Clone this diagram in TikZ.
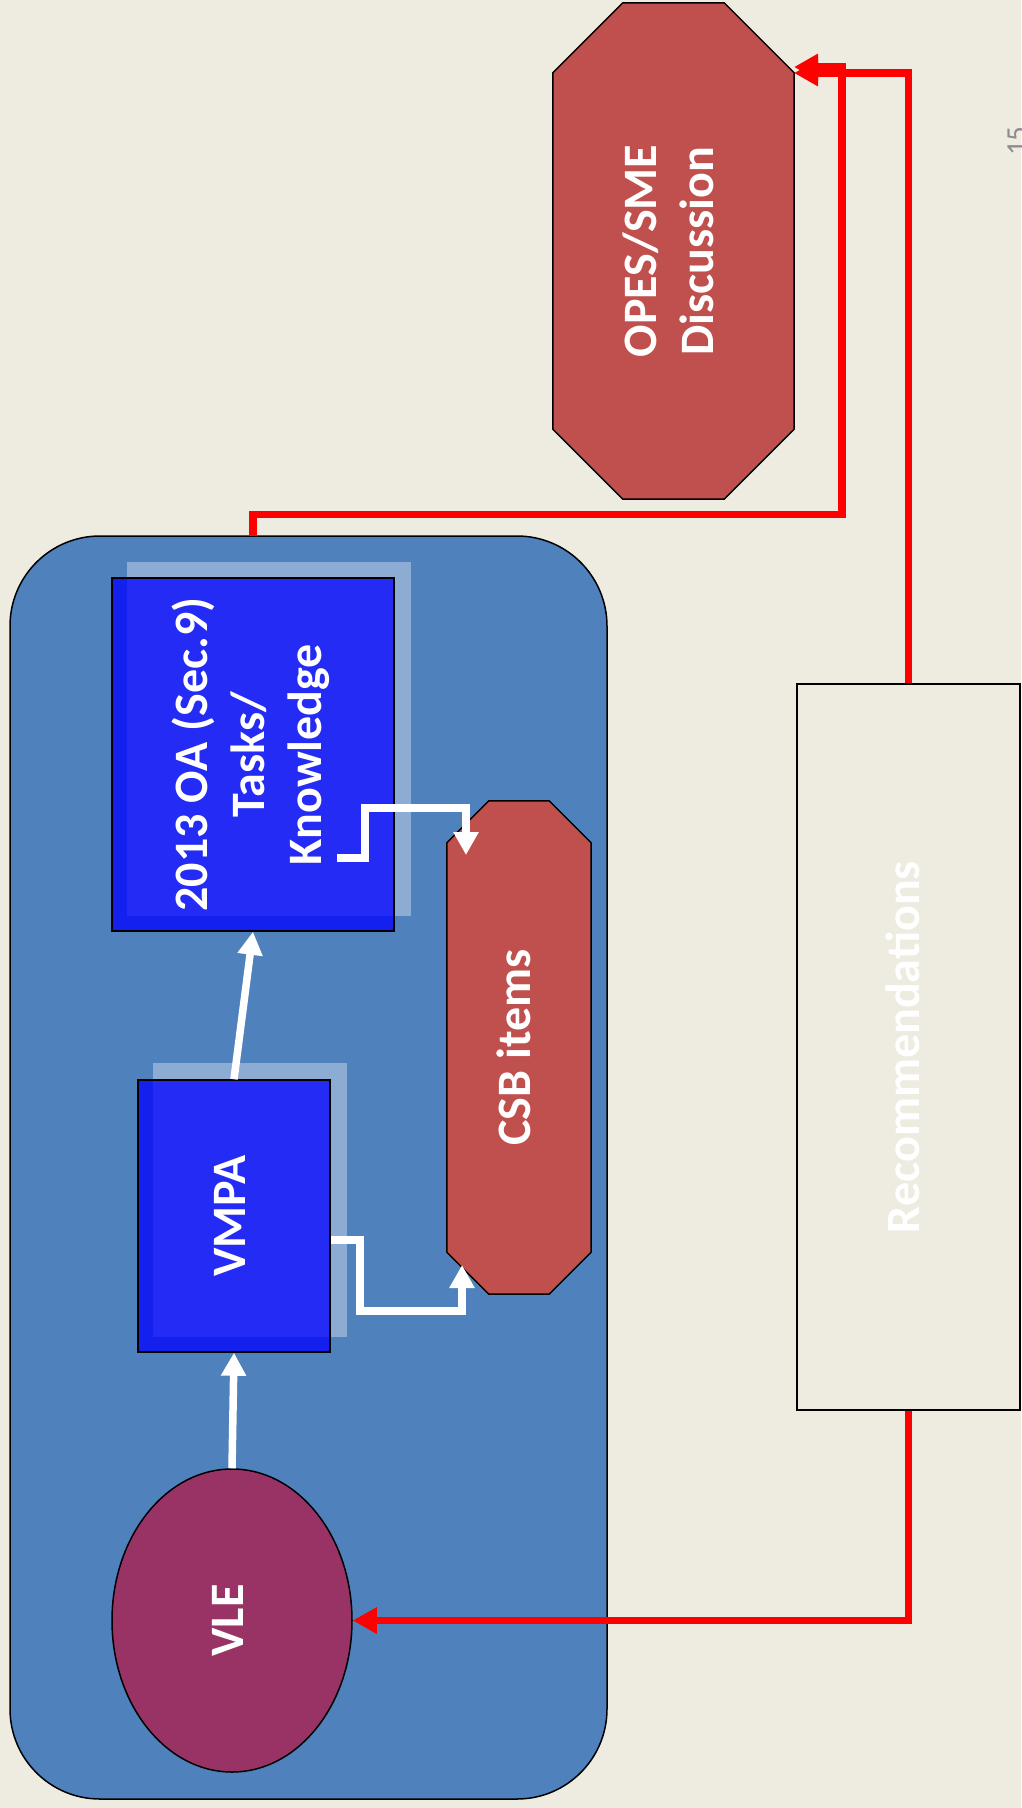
\documentclass[tikz,border=0pt]{standalone}
\usepackage{fontspec}
\setmainfont{Carlito}
\usepackage{graphicx}
\usetikzlibrary{arrows.meta,calc,shapes.geometric}
\pgfdeclarelayer{back}
\pgfdeclarelayer{shapes}
\pgfsetlayers{back,shapes,main}
\definecolor{bgtan}{HTML}{EEECE1}
\definecolor{grpblue}{HTML}{4F81BD}
\definecolor{octred}{HTML}{C0504D}
\definecolor{vlepurple}{HTML}{993366}
\definecolor{pagegray}{HTML}{8C8C8C}
\newcommand{\rtext}[1]{\rotatebox{90}{\begin{tabular}{@{}c@{}}#1\end{tabular}}}
\begin{document}
\begin{tikzpicture}[x=1pt,y=-1pt,
  shapeline/.style={draw=black,line width=1.5pt},
  txt/.style={text=white,font=\fontsize{48}{57}\selectfont\bfseries,inner sep=0pt},
  anchorbox/.style={rectangle,inner sep=0pt,txt},
  bluebox/.style={rectangle,shapeline,fill=blue,fill opacity=0.75,text opacity=1,inner sep=0pt,txt},
  ghost/.style={fill=white,fill opacity=0.35},
  octfill/.style={shapeline,fill=octred},
  whitearrow/.style={draw=white,line width=7.5pt,-{Triangle[width=24pt,length=23pt]}},
  redarrow/.style={draw=red,line width=7.5pt,-{Triangle[width=25pt,length=24pt]}},
  pagenum/.style={text=pagegray,font=\fontsize{29}{34}\selectfont,inner sep=0pt}
]
\useasboundingbox (0,0) rectangle (1021,1808);
\begin{pgfonlayer}{back}
  \fill[bgtan] (0,0) rectangle (1021,1808);
  \node[rectangle,shapeline,fill=grpblue,rounded corners=90,minimum width=597,minimum height=1263] (grp) at (308.5,1167.5) {};
  \fill[ghost] (127,562) rectangle (411,916);
  \fill[ghost] (153,1063) rectangle (347,1337);
\end{pgfonlayer}

% blue boxes
\node[bluebox,minimum width=282,minimum height=353] (oa) at (253,754.5) {\rtext{2013 OA (Sec.9)\\Tasks/\\Knowledge}};
\node[bluebox,minimum width=192,minimum height=272] (vmpa) at (234,1216) {\rtext{VMPA}};

% CSB items octagon
\node[anchorbox,minimum width=144,minimum height=493] (csb) at (519,1047.5) {\rtext{CSB items}};
\begin{pgfonlayer}{shapes}
  \draw[octfill] ($(csb.north west)+(42,0)$) -- ($(csb.north east)+(-42,0)$) -- ($(csb.north east)+(0,42)$)
    -- ($(csb.south east)+(0,-42)$) -- ($(csb.south east)+(-42,0)$) -- ($(csb.south west)+(42,0)$)
    -- ($(csb.south west)+(0,-42)$) -- ($(csb.north west)+(0,42)$) -- cycle;
\end{pgfonlayer}

% VLE ellipse
\node[ellipse,shapeline,fill=vlepurple,minimum width=240,minimum height=303,txt] (vle) at (232,1620.5) {\rtext{VLE}};

% OPES/SME octagon
\node[anchorbox,minimum width=241,minimum height=496] (opes) at (673.5,251) {\rtext{OPES/SME\\Discussion}};
\begin{pgfonlayer}{shapes}
  \draw[octfill] ($(opes.north west)+(70,0)$) -- ($(opes.north east)+(-70,0)$) -- ($(opes.north east)+(0,70)$)
    -- ($(opes.south east)+(0,-70)$) -- ($(opes.south east)+(-70,0)$) -- ($(opes.south west)+(70,0)$)
    -- ($(opes.south west)+(0,-70)$) -- ($(opes.north west)+(0,70)$) -- cycle;
\end{pgfonlayer}

% Recommendations
\node[rectangle,shapeline,minimum width=223,minimum height=726,txt] (rec) at (908.5,1047) {\rtext{Recommendations}};

% page number
\node[pagenum,rotate=90,anchor=base] (pnum) at (1026,141) {15};

% connector end points
\coordinate (oaout) at (337,858);
\coordinate (csbin2) at (466,855);
\coordinate (csbin1) at (462,1265);
\coordinate (opesin1) at (794,67);
\coordinate (opesin2) at (794,73);

% white arrows
\draw[whitearrow] (vle.north) -- (vmpa.south);
\draw[whitearrow] (vmpa.north) -- (oa.south);
\draw[whitearrow] ([yshift=-24pt]vmpa.east) -- ++(29,0) -- ++(0,71) -| (csbin1);
\draw[whitearrow] (oaout) -- ++(28,0) -- ++(0,-50) -| (csbin2);

% red arrows
\draw[redarrow] (oa.north |- grp.north) -- ++(0,-21) -| ([xshift=48pt]opesin1) -- (opesin1);
\draw[redarrow] (rec.north) |- (opesin2);
\draw[redarrow] (rec.south) |- (vle.east);
\end{tikzpicture}
\end{document}
